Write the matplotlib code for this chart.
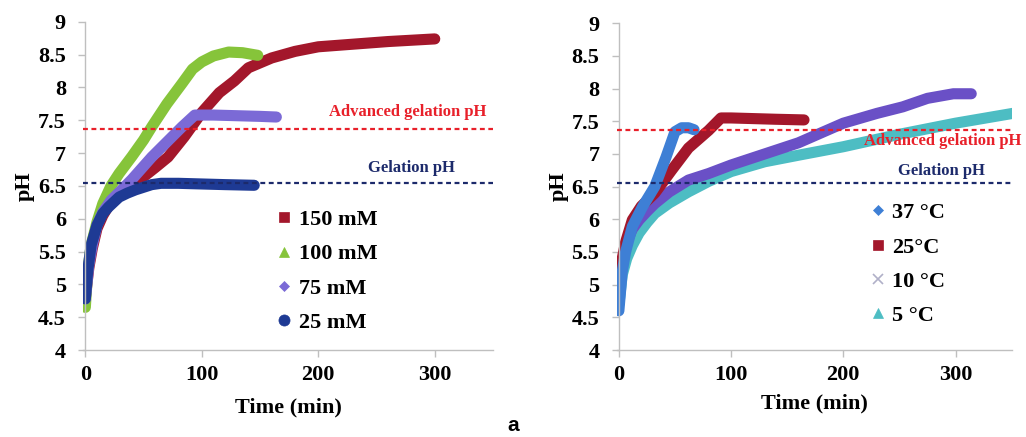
import matplotlib
matplotlib.use("Agg")
import matplotlib.pyplot as plt
from matplotlib.lines import Line2D

# ---------------- data: left panel (concentration) ----------------
t150 = [0, 3, 6, 10, 15, 20, 30, 40, 50, 60, 71, 85, 100, 115, 128, 140, 160, 180, 200, 230, 260, 300]
ph150 = [4.80, 5.25, 5.55, 5.85, 6.05, 6.2, 6.38, 6.5, 6.64, 6.78, 6.94, 7.25, 7.62, 7.92, 8.1, 8.3, 8.45, 8.55, 8.62, 8.66, 8.70, 8.74]

t100 = [0, 2, 5, 10, 15, 22, 29, 40, 50, 57, 70, 83, 92, 100, 110, 123, 135, 148]
ph100 = [4.65, 5.2, 5.6, 5.95, 6.23, 6.5, 6.69, 6.95, 7.2, 7.40, 7.75, 8.06, 8.28, 8.39, 8.48, 8.54, 8.53, 8.49]

t75 = [0, 3, 6, 10, 15, 22, 30, 40, 50, 57, 70, 83, 94, 110, 130, 150, 164]
ph75 = [4.78, 5.3, 5.6, 5.9, 6.1, 6.28, 6.42, 6.6, 6.8, 6.94, 7.17, 7.40, 7.58, 7.58, 7.57, 7.56, 7.55]

t25 = [0, 2, 5, 10, 15, 20, 29, 36, 43, 50, 57, 65, 80, 100, 120, 145]
ph25 = [4.78, 5.2, 5.6, 5.9, 6.08, 6.18, 6.33, 6.39, 6.44, 6.48, 6.52, 6.54, 6.54, 6.53, 6.52, 6.51]

# ---------------- data: right panel (temperature) ----------------
t37 = [0, 3, 6, 12, 21, 32, 42, 50, 56, 62, 67]
ph37 = [4.60, 5.2, 5.5, 5.89, 6.19, 6.50, 6.95, 7.34, 7.40, 7.40, 7.37]

t25c = [0, 3, 6, 12, 20, 32, 47, 62, 80, 91, 100, 120, 140, 165]
ph25c = [4.90, 5.4, 5.65, 5.99, 6.2, 6.40, 6.75, 7.09, 7.36, 7.55, 7.55, 7.54, 7.53, 7.52]

t10 = [0, 3, 7, 12, 18, 25, 32, 45, 62, 80, 100, 130, 160, 200, 230, 253, 275, 298, 314]
ph10 = [4.85, 5.35, 5.65, 5.85, 5.99, 6.12, 6.24, 6.42, 6.60, 6.70, 6.83, 7.0, 7.17, 7.47, 7.62, 7.72, 7.85, 7.92, 7.92]

t5 = [0, 3, 7, 12, 18, 25, 32, 45, 62, 80, 100, 130, 160, 200, 250, 300, 351]
ph5 = [4.70, 5.15, 5.4, 5.6, 5.79, 5.95, 6.09, 6.25, 6.42, 6.58, 6.73, 6.88, 6.98, 7.11, 7.30, 7.47, 7.62]

gel_ph = 6.55
adv_gel_ph = 7.37

xticks = [0, 100, 200, 300]
yticks = [4, 4.5, 5, 5.5, 6, 6.5, 7, 7.5, 8, 8.5, 9]
yticklabels = ["4", "4.5", "5", "5.5", "6", "6.5", "7", "7.5", "8", "8.5", "9"]

left_series = [
    ("150 mM", t150, ph150, "#A3172B", "s"),
    ("100 mM", t100, ph100, "#86C43A", "^"),
    ("75 mM", t75, ph75, "#7B6AD6", "D"),
    ("25 mM", t25, ph25, "#1E3A94", "o"),
]
right_series = [
    ("37 °C", t37, ph37, "#3E7FD5", "D"),
    ("25°C", t25c, ph25c, "#A3172B", "s"),
    ("10 °C", t10, ph10, "#6A50C6", "x"),
    ("5 °C", t5, ph5, "#4DBDC3", "^"),
]

plt.rcParams["font.family"] = ["Liberation Serif", "DejaVu Serif"]
plt.rcParams["font.weight"] = "bold"

fig = plt.figure(figsize=(10.26, 4.37), dpi=100)
axL = fig.add_axes([0.0809, 0.199, 0.3996, 0.751])
axR = fig.add_axes([0.601, 0.199, 0.385, 0.748])

legend_markers = {"s": 7, "^": 7, "D": 5.5, "o": 8, "x": 7}
FS = 16


def style(ax, series, order_draw, xlabelpad):
    for name, t, p, c, m in order_draw:
        ax.plot(t, p, color=c, lw=8, solid_capstyle="round", solid_joinstyle="round", zorder=2)
    ax.axhline(adv_gel_ph, color="#E8202A", ls=(0, (2.2, 1.6)), lw=1.6, zorder=4)
    ax.axhline(gel_ph, color="#1C2A6B", ls=(0, (2.2, 1.6)), lw=1.6, zorder=4)
    ax.set_xlim(-2, 350)
    ax.set_ylim(4, 9)
    ax.set_xticks(xticks)
    ax.set_yticks(yticks)
    ax.set_yticklabels(yticklabels)
    for s in ["top", "right"]:
        ax.spines[s].set_visible(False)
    for s in ["left", "bottom"]:
        ax.spines[s].set_color("#BFBFBF")
        ax.spines[s].set_linewidth(1.0)
    ax.spines["left"].set_position(("data", 0))
    ax.tick_params(axis="both", colors="#BFBFBF", labelcolor="black", labelsize=FS, length=5, width=1.0)
    ax.tick_params(axis="x", pad=6)
    ax.tick_params(axis="y", pad=9)
    for lab in ax.get_xticklabels() + ax.get_yticklabels():
        lab.set_fontweight("bold")
    ax.set_xlabel("Time (min)", fontsize=FS, fontweight="bold", labelpad=xlabelpad)
    ax.set_ylabel("pH", fontsize=FS, fontweight="bold", labelpad=2)
    handles = [Line2D([], [], ls="none", marker=m, color=c, markersize=legend_markers[m],
                      markeredgewidth=1.2 if m == "x" else 0.5,
                      markeredgecolor=("#B0B0C8" if m == "x" else c))
               for name, t, p, c, m in series]
    labels = [s[0] for s in series]
    return handles, labels


hL, lL = style(axL, left_series, left_series, 9)
axL.legend(hL, lL, loc="upper left", bbox_to_anchor=(0.453, 0.455), frameon=False,
           handlelength=0.6, handletextpad=0.35, labelspacing=0.62,
           borderaxespad=0, prop={"weight": "bold", "size": FS})
axL.text(277, 7.62, "Advanced gelation pH", color="#E8202A", fontsize=12, fontweight="bold",
         ha="center", va="center")
axL.text(280, 6.77, "Gelation pH", color="#1C2A6B", fontsize=12, fontweight="bold",
         ha="center", va="center")

draw_R = [right_series[3], right_series[2], right_series[1], right_series[0]]
hR, lR = style(axR, right_series, draw_R, 6)
axR.legend(hR, lR, loc="upper left", bbox_to_anchor=(0.622, 0.478), frameon=False,
           handlelength=0.6, handletextpad=0.35, labelspacing=0.62,
           borderaxespad=0, prop={"weight": "bold", "size": FS})
axR.text(289, 7.19, "Advanced gelation pH", color="#E8202A", fontsize=12, fontweight="bold",
         ha="center", va="center", clip_on=False)
axR.text(287, 6.74, "Gelation pH", color="#1C2A6B", fontsize=12, fontweight="bold",
         ha="center", va="center")

fig.text(0.5, 0.027, "a", family=["Liberation Sans", "DejaVu Sans"], fontsize=15,
         fontweight="bold", ha="center", va="center")

fig.savefig("out.png", dpi=100)
